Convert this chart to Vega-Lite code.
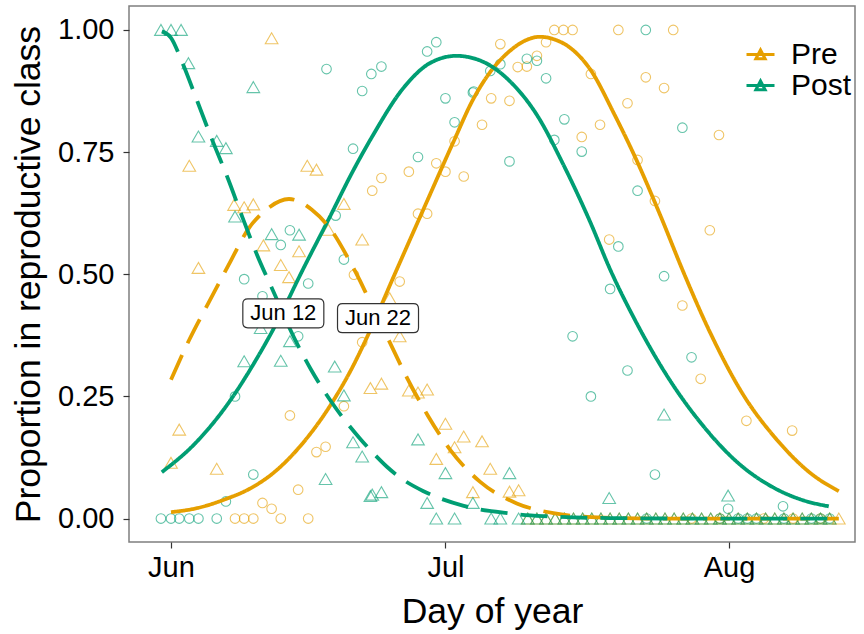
{
"$schema": "https://vega.github.io/schema/vega-lite/v6.json",
"width": 726, "height": 536,
"autosize": {"type": "none"},
"padding": {"left": 129, "top": 6, "right": 9, "bottom": 92},
"config": {
 "font": "Liberation Sans",
 "view": {"stroke": "#7f7f7f", "strokeWidth": 1.5},
 "axis": {"grid": false, "domain": false, "tickColor": "#333333", "tickSize": 6, "tickWidth": 1.2, "labelColor": "#000000", "titleColor": "#000000", "labelFont": "Liberation Sans", "titleFont": "Liberation Sans", "titleFontWeight": "normal", "labelFontSize": 29, "titleFontSize": 35.5}
},
"datasets": {
 "pts": [
  {"d":163.0,"p":0.983,"g":"Pre","s":"t"},{"d":154.0,"p":0.722,"g":"Pre","s":"t"},{"d":166.9,"p":0.722,"g":"Pre","s":"t"},{"d":167.9,"p":0.714,"g":"Pre","s":"t"},{"d":158.9,"p":0.642,"g":"Pre","s":"t"},{"d":160.0,"p":0.637,"g":"Pre","s":"t"},{"d":161.0,"p":0.643,"g":"Pre","s":"t"},{"d":170.9,"p":0.644,"g":"Pre","s":"t"},{"d":169.2,"p":0.591,"g":"Pre","s":"t"},{"d":162.1,"p":0.559,"g":"Pre","s":"t"},{"d":166.0,"p":0.547,"g":"Pre","s":"t"},{"d":172.9,"p":0.571,"g":"Pre","s":"t"},{"d":164.0,"p":0.519,"g":"Pre","s":"t"},{"d":155.0,"p":0.513,"g":"Pre","s":"t"},{"d":164.9,"p":0.494,"g":"Pre","s":"t"},{"d":175.9,"p":0.451,"g":"Pre","s":"t"},{"d":177.0,"p":0.373,"g":"Pre","s":"t"},{"d":173.8,"p":0.267,"g":"Pre","s":"t"},{"d":175.0,"p":0.276,"g":"Pre","s":"t"},{"d":178.0,"p":0.262,"g":"Pre","s":"t"},{"d":179.0,"p":0.258,"g":"Pre","s":"t"},{"d":180.0,"p":0.264,"g":"Pre","s":"t"},{"d":152.9,"p":0.182,"g":"Pre","s":"t"},{"d":152.0,"p":0.114,"g":"Pre","s":"t"},{"d":157.0,"p":0.102,"g":"Pre","s":"t"},{"d":182.0,"p":0.194,"g":"Pre","s":"t"},{"d":184.0,"p":0.168,"g":"Pre","s":"t"},{"d":183.0,"p":0.146,"g":"Pre","s":"t"},{"d":186.0,"p":0.158,"g":"Pre","s":"t"},{"d":181.0,"p":0.122,"g":"Pre","s":"t"},{"d":186.9,"p":0.102,"g":"Pre","s":"t"},{"d":189.0,"p":0.055,"g":"Pre","s":"t"},{"d":190.0,"p":0.058,"g":"Pre","s":"t"},{"d":185.0,"p":0.054,"g":"Pre","s":"t"},
  {"d":191,"p":0,"g":"Pre","s":"t"},{"d":192,"p":0,"g":"Pre","s":"t"},{"d":193,"p":0,"g":"Pre","s":"t"},{"d":194,"p":0,"g":"Pre","s":"t"},{"d":195,"p":0,"g":"Pre","s":"t"},{"d":196,"p":0,"g":"Pre","s":"t"},{"d":197,"p":0,"g":"Pre","s":"t"},{"d":198,"p":0,"g":"Pre","s":"t"},{"d":199,"p":0,"g":"Pre","s":"t"},{"d":200,"p":0,"g":"Pre","s":"t"},{"d":201,"p":0,"g":"Pre","s":"t"},{"d":202,"p":0,"g":"Pre","s":"t"},{"d":203,"p":0,"g":"Pre","s":"t"},{"d":204,"p":0,"g":"Pre","s":"t"},{"d":205,"p":0,"g":"Pre","s":"t"},{"d":206,"p":0,"g":"Pre","s":"t"},{"d":207,"p":0,"g":"Pre","s":"t"},{"d":208,"p":0,"g":"Pre","s":"t"},{"d":209,"p":0,"g":"Pre","s":"t"},{"d":210,"p":0,"g":"Pre","s":"t"},{"d":211,"p":0,"g":"Pre","s":"t"},{"d":212,"p":0,"g":"Pre","s":"t"},{"d":213,"p":0,"g":"Pre","s":"t"},{"d":214,"p":0,"g":"Pre","s":"t"},{"d":215,"p":0,"g":"Pre","s":"t"},{"d":216,"p":0,"g":"Pre","s":"t"},{"d":217,"p":0,"g":"Pre","s":"t"},{"d":218,"p":0,"g":"Pre","s":"t"},{"d":219,"p":0,"g":"Pre","s":"t"},{"d":220,"p":0,"g":"Pre","s":"t"},{"d":221,"p":0,"g":"Pre","s":"t"},{"d":222,"p":0,"g":"Pre","s":"t"},{"d":223,"p":0,"g":"Pre","s":"t"},{"d":224,"p":0,"g":"Pre","s":"t"},{"d":225,"p":0,"g":"Pre","s":"t"},
  {"d":174.0,"p":0.671,"g":"Pre","s":"c"},{"d":172.0,"p":0.499,"g":"Pre","s":"c"},{"d":172.9,"p":0.361,"g":"Pre","s":"c"},{"d":170.9,"p":0.230,"g":"Pre","s":"c"},{"d":165.0,"p":0.211,"g":"Pre","s":"c"},{"d":167.9,"p":0.136,"g":"Pre","s":"c"},{"d":168.9,"p":0.147,"g":"Pre","s":"c"},{"d":165.9,"p":0.059,"g":"Pre","s":"c"},{"d":162.0,"p":0.032,"g":"Pre","s":"c"},{"d":163.0,"p":0.020,"g":"Pre","s":"c"},{"d":159.0,"p":0,"g":"Pre","s":"c"},{"d":160.0,"p":0,"g":"Pre","s":"c"},{"d":161.0,"p":0,"g":"Pre","s":"c"},{"d":164.0,"p":0,"g":"Pre","s":"c"},{"d":167.0,"p":0,"g":"Pre","s":"c"},{"d":177.0,"p":0.485,"g":"Pre","s":"c"},{"d":188.0,"p":0.971,"g":"Pre","s":"c"},{"d":193.9,"p":1,"g":"Pre","s":"c"},{"d":194.9,"p":1,"g":"Pre","s":"c"},{"d":195.9,"p":1,"g":"Pre","s":"c"},{"d":200.9,"p":1,"g":"Pre","s":"c"},{"d":206.9,"p":1,"g":"Pre","s":"c"},{"d":189.9,"p":0.924,"g":"Pre","s":"c"},{"d":190.9,"p":0.925,"g":"Pre","s":"c"},{"d":192.0,"p":0.947,"g":"Pre","s":"c"},{"d":193.0,"p":0.975,"g":"Pre","s":"c"},{"d":197.9,"p":0.910,"g":"Pre","s":"c"},{"d":187.0,"p":0.860,"g":"Pre","s":"c"},{"d":189.0,"p":0.855,"g":"Pre","s":"c"},{"d":186.0,"p":0.806,"g":"Pre","s":"c"},{"d":198.9,"p":0.806,"g":"Pre","s":"c"},{"d":183.0,"p":0.772,"g":"Pre","s":"c"},{"d":196.9,"p":0.781,"g":"Pre","s":"c"},{"d":181.0,"p":0.727,"g":"Pre","s":"c"},{"d":182.0,"p":0.710,"g":"Pre","s":"c"},{"d":178.0,"p":0.710,"g":"Pre","s":"c"},{"d":184.0,"p":0.700,"g":"Pre","s":"c"},{"d":175.0,"p":0.697,"g":"Pre","s":"c"},{"d":179.0,"p":0.624,"g":"Pre","s":"c"},{"d":180.0,"p":0.624,"g":"Pre","s":"c"},{"d":199.9,"p":0.571,"g":"Pre","s":"c"},{"d":203.9,"p":0.903,"g":"Pre","s":"c"},{"d":205.9,"p":0.881,"g":"Pre","s":"c"},{"d":201.9,"p":0.850,"g":"Pre","s":"c"},{"d":211.9,"p":0.785,"g":"Pre","s":"c"},{"d":203.0,"p":0.734,"g":"Pre","s":"c"},{"d":204.9,"p":0.650,"g":"Pre","s":"c"},{"d":210.9,"p":0.590,"g":"Pre","s":"c"},{"d":207.9,"p":0.436,"g":"Pre","s":"c"},{"d":209.9,"p":0.286,"g":"Pre","s":"c"},{"d":214.9,"p":0.200,"g":"Pre","s":"c"},{"d":219.9,"p":0.180,"g":"Pre","s":"c"},{"d":208.9,"p":0,"g":"Pre","s":"c"},{"d":212.0,"p":0,"g":"Pre","s":"c"},{"d":216.8,"p":0,"g":"Pre","s":"c"},{"d":220.0,"p":0,"g":"Pre","s":"c"},{"d":223.0,"p":0,"g":"Pre","s":"c"},
  {"d":150.9,"p":1,"g":"Post","s":"t"},{"d":152.0,"p":1,"g":"Post","s":"t"},{"d":153.1,"p":1,"g":"Post","s":"t"},{"d":153.9,"p":0.932,"g":"Post","s":"t"},{"d":161.0,"p":0.883,"g":"Post","s":"t"},{"d":155.0,"p":0.782,"g":"Post","s":"t"},{"d":157.0,"p":0.773,"g":"Post","s":"t"},{"d":158.0,"p":0.758,"g":"Post","s":"t"},{"d":159.0,"p":0.618,"g":"Post","s":"t"},{"d":163.0,"p":0.582,"g":"Post","s":"t"},{"d":166.0,"p":0.581,"g":"Post","s":"t"},{"d":161.8,"p":0.390,"g":"Post","s":"t"},{"d":165.0,"p":0.363,"g":"Post","s":"t"},{"d":160.0,"p":0.322,"g":"Post","s":"t"},{"d":164.0,"p":0.323,"g":"Post","s":"t"},{"d":169.9,"p":0.311,"g":"Post","s":"t"},{"d":170.9,"p":0.252,"g":"Post","s":"t"},{"d":171.9,"p":0.156,"g":"Post","s":"t"},{"d":172.9,"p":0.127,"g":"Post","s":"t"},{"d":168.9,"p":0.081,"g":"Post","s":"t"},{"d":173.8,"p":0.046,"g":"Post","s":"t"},{"d":175.0,"p":0.054,"g":"Post","s":"t"},{"d":174.0,"p":0.049,"g":"Post","s":"t"},{"d":179.0,"p":0.162,"g":"Post","s":"t"},{"d":182.0,"p":0.093,"g":"Post","s":"t"},{"d":189.0,"p":0.093,"g":"Post","s":"t"},{"d":180.0,"p":0.032,"g":"Post","s":"t"},{"d":185.0,"p":0.032,"g":"Post","s":"t"},{"d":199.9,"p":0.042,"g":"Post","s":"t"},{"d":205.9,"p":0.213,"g":"Post","s":"t"},{"d":212.9,"p":0.047,"g":"Post","s":"t"},
  {"d":181,"p":0,"g":"Post","s":"t"},{"d":183,"p":0,"g":"Post","s":"t"},{"d":187,"p":0,"g":"Post","s":"t"},{"d":188,"p":0,"g":"Post","s":"t"},{"d":190,"p":0,"g":"Post","s":"t"},{"d":191,"p":0,"g":"Post","s":"t"},{"d":192,"p":0,"g":"Post","s":"t"},{"d":193,"p":0,"g":"Post","s":"t"},{"d":194,"p":0,"g":"Post","s":"t"},{"d":195,"p":0,"g":"Post","s":"t"},{"d":196,"p":0,"g":"Post","s":"t"},{"d":197,"p":0,"g":"Post","s":"t"},{"d":198,"p":0,"g":"Post","s":"t"},{"d":199,"p":0,"g":"Post","s":"t"},{"d":200,"p":0,"g":"Post","s":"t"},{"d":201,"p":0,"g":"Post","s":"t"},{"d":202,"p":0,"g":"Post","s":"t"},{"d":203,"p":0,"g":"Post","s":"t"},{"d":204,"p":0,"g":"Post","s":"t"},{"d":205,"p":0,"g":"Post","s":"t"},{"d":206,"p":0,"g":"Post","s":"t"},{"d":207,"p":0,"g":"Post","s":"t"},{"d":208,"p":0,"g":"Post","s":"t"},{"d":209,"p":0,"g":"Post","s":"t"},{"d":210,"p":0,"g":"Post","s":"t"},{"d":211,"p":0,"g":"Post","s":"t"},{"d":212,"p":0,"g":"Post","s":"t"},{"d":213,"p":0,"g":"Post","s":"t"},{"d":214,"p":0,"g":"Post","s":"t"},{"d":215,"p":0,"g":"Post","s":"t"},{"d":216,"p":0,"g":"Post","s":"t"},{"d":217,"p":0,"g":"Post","s":"t"},{"d":218,"p":0,"g":"Post","s":"t"},{"d":219,"p":0,"g":"Post","s":"t"},{"d":220,"p":0,"g":"Post","s":"t"},{"d":221,"p":0,"g":"Post","s":"t"},{"d":222,"p":0,"g":"Post","s":"t"},{"d":223,"p":0,"g":"Post","s":"t"},{"d":224,"p":0,"g":"Post","s":"t"},
  {"d":169.0,"p":0.920,"g":"Post","s":"c"},{"d":173.9,"p":0.910,"g":"Post","s":"c"},{"d":175.0,"p":0.925,"g":"Post","s":"c"},{"d":172.9,"p":0.875,"g":"Post","s":"c"},{"d":171.9,"p":0.757,"g":"Post","s":"c"},{"d":170.0,"p":0.620,"g":"Post","s":"c"},{"d":165.0,"p":0.590,"g":"Post","s":"c"},{"d":164.0,"p":0.560,"g":"Post","s":"c"},{"d":170.9,"p":0.530,"g":"Post","s":"c"},{"d":160.0,"p":0.490,"g":"Post","s":"c"},{"d":167.0,"p":0.481,"g":"Post","s":"c"},{"d":162.0,"p":0.455,"g":"Post","s":"c"},{"d":165.9,"p":0.373,"g":"Post","s":"c"},{"d":159.0,"p":0.250,"g":"Post","s":"c"},{"d":161.0,"p":0.090,"g":"Post","s":"c"},{"d":158.0,"p":0.035,"g":"Post","s":"c"},{"d":150.9,"p":0,"g":"Post","s":"c"},{"d":152.0,"p":0,"g":"Post","s":"c"},{"d":152.9,"p":0,"g":"Post","s":"c"},{"d":154.0,"p":0,"g":"Post","s":"c"},{"d":155.0,"p":0,"g":"Post","s":"c"},{"d":157.0,"p":0,"g":"Post","s":"c"},{"d":180.0,"p":0.956,"g":"Post","s":"c"},{"d":181.0,"p":0.975,"g":"Post","s":"c"},{"d":188.0,"p":0.930,"g":"Post","s":"c"},{"d":186.9,"p":0.916,"g":"Post","s":"c"},{"d":190.9,"p":0.941,"g":"Post","s":"c"},{"d":192.0,"p":0.937,"g":"Post","s":"c"},{"d":193.0,"p":0.901,"g":"Post","s":"c"},{"d":182.0,"p":0.860,"g":"Post","s":"c"},{"d":185.0,"p":0.872,"g":"Post","s":"c"},{"d":185.1,"p":0.874,"g":"Post","s":"c"},{"d":183.0,"p":0.811,"g":"Post","s":"c"},{"d":195.0,"p":0.817,"g":"Post","s":"c"},{"d":193.9,"p":0.775,"g":"Post","s":"c"},{"d":196.9,"p":0.751,"g":"Post","s":"c"},{"d":179.0,"p":0.740,"g":"Post","s":"c"},{"d":189.0,"p":0.731,"g":"Post","s":"c"},{"d":200.9,"p":0.557,"g":"Post","s":"c"},{"d":203.9,"p":1,"g":"Post","s":"c"},{"d":207.9,"p":0.800,"g":"Post","s":"c"},{"d":203.0,"p":0.671,"g":"Post","s":"c"},{"d":205.9,"p":0.496,"g":"Post","s":"c"},{"d":200.0,"p":0.470,"g":"Post","s":"c"},{"d":195.9,"p":0.373,"g":"Post","s":"c"},{"d":197.9,"p":0.250,"g":"Post","s":"c"},{"d":208.9,"p":0.330,"g":"Post","s":"c"},{"d":201.9,"p":0.303,"g":"Post","s":"c"},{"d":204.9,"p":0.090,"g":"Post","s":"c"},{"d":212.9,"p":0.020,"g":"Post","s":"c"},{"d":218.9,"p":0.025,"g":"Post","s":"c"},{"d":204,"p":0,"g":"Post","s":"c"},{"d":212,"p":0,"g":"Post","s":"c"},{"d":214,"p":0,"g":"Post","s":"c"},{"d":215,"p":0,"g":"Post","s":"c"},{"d":216,"p":0,"g":"Post","s":"c"},{"d":219,"p":0,"g":"Post","s":"c"},{"d":222,"p":0,"g":"Post","s":"c"},{"d":223,"p":0,"g":"Post","s":"c"},{"d":224,"p":0,"g":"Post","s":"c"}
 ],
 "curves": [
  {"d":152.0,"p":0.013,"g":"Pre","k":"solid"},{"d":155.0,"p":0.022,"g":"Pre","k":"solid"},{"d":158.0,"p":0.040,"g":"Pre","k":"solid"},{"d":160.5,"p":0.060,"g":"Pre","k":"solid"},{"d":163.1,"p":0.092,"g":"Pre","k":"solid"},{"d":166.3,"p":0.152,"g":"Pre","k":"solid"},{"d":169.6,"p":0.237,"g":"Pre","k":"solid"},{"d":171.7,"p":0.305,"g":"Pre","k":"solid"},{"d":173.6,"p":0.378,"g":"Pre","k":"solid"},{"d":176.5,"p":0.502,"g":"Pre","k":"solid"},{"d":180.0,"p":0.650,"g":"Pre","k":"solid"},{"d":182.9,"p":0.772,"g":"Pre","k":"solid"},{"d":185.0,"p":0.857,"g":"Pre","k":"solid"},{"d":186.9,"p":0.914,"g":"Pre","k":"solid"},{"d":189.1,"p":0.958,"g":"Pre","k":"solid"},{"d":190.8,"p":0.979,"g":"Pre","k":"solid"},{"d":192.3,"p":0.986,"g":"Pre","k":"solid"},{"d":194.0,"p":0.980,"g":"Pre","k":"solid"},{"d":195.6,"p":0.964,"g":"Pre","k":"solid"},{"d":197.8,"p":0.920,"g":"Pre","k":"solid"},{"d":200.5,"p":0.826,"g":"Pre","k":"solid"},{"d":202.9,"p":0.733,"g":"Pre","k":"solid"},{"d":205.5,"p":0.620,"g":"Pre","k":"solid"},{"d":208.0,"p":0.505,"g":"Pre","k":"solid"},{"d":210.9,"p":0.382,"g":"Pre","k":"solid"},{"d":214.6,"p":0.252,"g":"Pre","k":"solid"},{"d":218.2,"p":0.162,"g":"Pre","k":"solid"},{"d":221.9,"p":0.093,"g":"Pre","k":"solid"},{"d":225.0,"p":0.056,"g":"Pre","k":"solid"},
  {"d":151.0,"p":0.095,"g":"Post","k":"solid"},{"d":154.7,"p":0.155,"g":"Post","k":"solid"},{"d":158.3,"p":0.237,"g":"Post","k":"solid"},{"d":161.3,"p":0.325,"g":"Post","k":"solid"},{"d":163.4,"p":0.395,"g":"Post","k":"solid"},{"d":166.4,"p":0.509,"g":"Post","k":"solid"},{"d":169.3,"p":0.615,"g":"Post","k":"solid"},{"d":171.8,"p":0.708,"g":"Post","k":"solid"},{"d":174.0,"p":0.782,"g":"Post","k":"solid"},{"d":177.4,"p":0.881,"g":"Post","k":"solid"},{"d":180.3,"p":0.932,"g":"Post","k":"solid"},{"d":183.2,"p":0.947,"g":"Post","k":"solid"},{"d":186.1,"p":0.935,"g":"Post","k":"solid"},{"d":189.1,"p":0.894,"g":"Post","k":"solid"},{"d":192.0,"p":0.826,"g":"Post","k":"solid"},{"d":194.9,"p":0.724,"g":"Post","k":"solid"},{"d":197.8,"p":0.608,"g":"Post","k":"solid"},{"d":200.0,"p":0.510,"g":"Post","k":"solid"},{"d":202.9,"p":0.400,"g":"Post","k":"solid"},{"d":206.5,"p":0.284,"g":"Post","k":"solid"},{"d":210.2,"p":0.189,"g":"Post","k":"solid"},{"d":213.8,"p":0.117,"g":"Post","k":"solid"},{"d":218.2,"p":0.060,"g":"Post","k":"solid"},{"d":221.0,"p":0.038,"g":"Post","k":"solid"},{"d":223.9,"p":0.025,"g":"Post","k":"solid"},
  {"d":152.0,"p":0.284,"g":"Pre","k":"dashed"},{"d":154.0,"p":0.366,"g":"Pre","k":"dashed"},{"d":156.2,"p":0.445,"g":"Pre","k":"dashed"},{"d":158.3,"p":0.519,"g":"Pre","k":"dashed"},{"d":160.5,"p":0.594,"g":"Pre","k":"dashed"},{"d":162.4,"p":0.632,"g":"Pre","k":"dashed"},{"d":164.9,"p":0.654,"g":"Pre","k":"dashed"},{"d":167.4,"p":0.632,"g":"Pre","k":"dashed"},{"d":169.6,"p":0.588,"g":"Pre","k":"dashed"},{"d":171.5,"p":0.528,"g":"Pre","k":"dashed"},{"d":172.6,"p":0.489,"g":"Pre","k":"dashed"},{"d":173.6,"p":0.450,"g":"Pre","k":"dashed"},{"d":174.6,"p":0.412,"g":"Pre","k":"dashed"},{"d":175.6,"p":0.373,"g":"Pre","k":"dashed"},{"d":177.8,"p":0.288,"g":"Pre","k":"dashed"},{"d":180.1,"p":0.210,"g":"Pre","k":"dashed"},{"d":182.5,"p":0.141,"g":"Pre","k":"dashed"},{"d":185.8,"p":0.075,"g":"Pre","k":"dashed"},{"d":189.8,"p":0.031,"g":"Pre","k":"dashed"},{"d":193.8,"p":0.011,"g":"Pre","k":"dashed"},{"d":198.0,"p":0.003,"g":"Pre","k":"dashed"},{"d":205.0,"p":0.0,"g":"Pre","k":"dashed"},{"d":215.0,"p":0.0,"g":"Pre","k":"dashed"},{"d":225.0,"p":0.0,"g":"Pre","k":"dashed"},
  {"d":151.0,"p":0.997,"g":"Post","k":"dashed"},{"d":152.0,"p":0.984,"g":"Post","k":"dashed"},{"d":153.2,"p":0.935,"g":"Post","k":"dashed"},{"d":154.9,"p":0.853,"g":"Post","k":"dashed"},{"d":156.5,"p":0.775,"g":"Post","k":"dashed"},{"d":158.2,"p":0.697,"g":"Post","k":"dashed"},{"d":159.8,"p":0.617,"g":"Post","k":"dashed"},{"d":161.4,"p":0.540,"g":"Post","k":"dashed"},{"d":163.4,"p":0.456,"g":"Post","k":"dashed"},{"d":164.9,"p":0.392,"g":"Post","k":"dashed"},{"d":167.3,"p":0.305,"g":"Post","k":"dashed"},{"d":169.6,"p":0.237,"g":"Post","k":"dashed"},{"d":172.6,"p":0.165,"g":"Post","k":"dashed"},{"d":174.2,"p":0.132,"g":"Post","k":"dashed"},{"d":175.6,"p":0.106,"g":"Post","k":"dashed"},{"d":177.5,"p":0.078,"g":"Post","k":"dashed"},{"d":179.6,"p":0.056,"g":"Post","k":"dashed"},{"d":184.0,"p":0.026,"g":"Post","k":"dashed"},{"d":188.3,"p":0.012,"g":"Post","k":"dashed"},{"d":192.7,"p":0.005,"g":"Post","k":"dashed"},{"d":200.0,"p":0.001,"g":"Post","k":"dashed"},{"d":210.0,"p":0.0,"g":"Post","k":"dashed"},{"d":224.2,"p":0.0,"g":"Post","k":"dashed"}
 ],
 "labs": [
  {"d":164.28,"p":0.420,"t":"Jun 12"},
  {"d":174.63,"p":0.410,"t":"Jun 22"}
 ]
},
"encoding": {
 "x": {"field": "d", "type": "quantitative", "title": "Day of year",
   "scale": {"domain": [147.41, 226.77], "nice": false, "zero": false},
   "axis": {"values": [152, 182, 213], "labelExpr": "datum.value == 152 ? 'Jun' : datum.value == 182 ? 'Jul' : 'Aug'", "labelPadding": 5, "titlePadding": 12, "labelFlush": false}},
 "y": {"field": "p", "type": "quantitative", "title": "Proportion in reproductive class",
   "scale": {"domain": [-0.048, 1.049], "nice": false, "zero": false},
   "axis": {"values": [0, 0.25, 0.5, 0.75, 1], "format": ".2f", "labelPadding": 9, "titlePadding": 11, "labelFlush": false}}
},
"layer": [
 {"data": {"name": "pts"}, "transform": [{"filter": "datum.s == 'c'"}],
  "mark": {"type": "point", "shape": "circle", "filled": false, "size": 92, "strokeWidth": 1.1, "opacity": 0.6},
  "encoding": {"color": {"field": "g", "type": "nominal", "scale": {"domain": ["Pre", "Post"], "range": ["#E69F00", "#009E73"]},
    "legend": {"title": null, "orient": "none", "legendX": 616, "legendY": 33, "symbolType": "M-1,0L1,0M-0.33,0.3L0,-0.33L0.33,0.3Z", "symbolSize": 784, "symbolStrokeWidth": 3, "symbolOpacity": 1, "symbolFillColor": "transparent", "labelFontSize": 30, "labelOffset": 15, "rowPadding": -5, "labelFont": "Liberation Sans", "labelColor": "#000000"}}}},
 {"data": {"name": "pts"}, "transform": [{"filter": "datum.s == 't'"}],
  "mark": {"type": "point", "shape": "triangle-up", "filled": false, "size": 160, "strokeWidth": 1.1, "opacity": 0.6},
  "encoding": {"color": {"field": "g", "type": "nominal"}}},
 {"data": {"name": "curves"},
  "mark": {"type": "line", "strokeWidth": 3.8, "interpolate": "monotone", "strokeCap": "butt"},
  "encoding": {"color": {"field": "g", "type": "nominal"},
   "strokeDash": {"field": "k", "type": "nominal", "scale": {"domain": ["solid", "dashed"], "range": [[1, 0], [27, 13]]}, "legend": null}}},
 {"data": {"name": "labs"},
  "mark": {"type": "point", "shape": "M-0.877,-0.358L0.877,-0.358Q1,-0.358 1,-0.235L1,0.235Q1,0.358 0.877,0.358L-0.877,0.358Q-1,0.358 -1,0.235L-1,-0.235Q-1,-0.358 -0.877,-0.358Z", "size": 6561, "filled": true, "fill": "#ffffff", "stroke": "#333333", "strokeWidth": 1.2, "opacity": 1},
  "encoding": {}},
 {"data": {"name": "labs"},
  "mark": {"type": "text", "fontSize": 22, "font": "Liberation Sans", "color": "#000000", "align": "center", "baseline": "middle"},
  "encoding": {"text": {"field": "t", "type": "nominal"}}}
]
}
